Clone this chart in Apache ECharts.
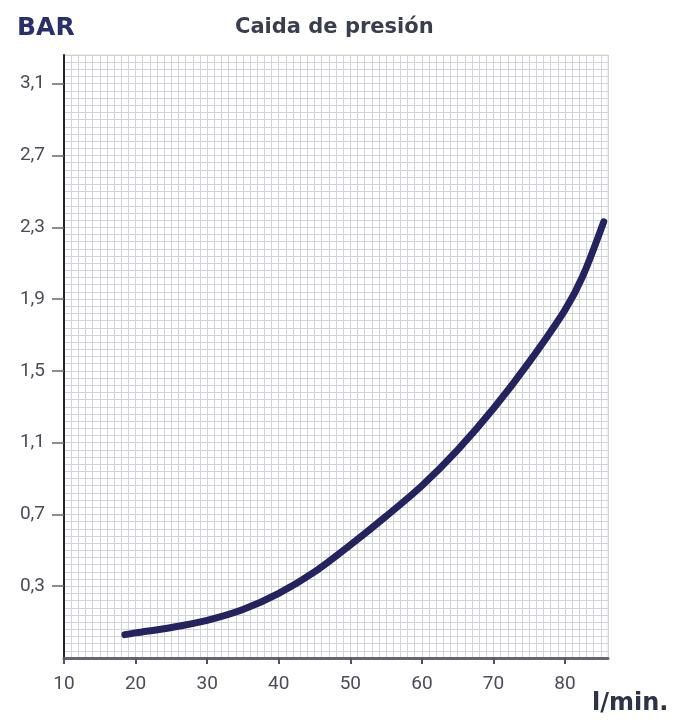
<!DOCTYPE html>
<html>
<head>
<meta charset="utf-8">
<script src="https://cdn.jsdelivr.net/npm/echarts@6/dist/echarts.min.js"></script>
<style>
html,body{margin:0;padding:0;background:#fff;}
#c{width:675px;height:721px;}
</style>
</head>
<body>
<div id="c"></div>
<script>
// Data
const flowLpm = [18.5, 20, 25, 30, 35, 40, 45, 50, 55, 60, 65, 70, 75, 80, 82.5, 85.4];
const pressureBar = [0.03, 0.04, 0.07, 0.11, 0.17, 0.26, 0.38, 0.53, 0.69, 0.86, 1.06, 1.29, 1.55, 1.84, 2.03, 2.33];
const xTicks = [10, 20, 30, 40, 50, 60, 70, 80];
const yTicks = [0.3, 0.7, 1.1, 1.5, 1.9, 2.3, 2.7, 3.1];

const xMin = 10, xMax = 86;
const yMin = -0.1, yMax = 3.26;

const chart = echarts.init(document.getElementById('c'));
const gridColor = '#d2d2dc';
const textColor = '#4c4c58';
const font = 'DejaVu Sans';
const labelFont = 'Roboto';

chart.setOption({
  backgroundColor: '#fff',
  animation: false,
  title: [
    { text: 'BAR', left: 12, top: 11, textStyle: { fontFamily: font, fontWeight: 'bold', fontSize: 25, color: '#2b2f6b' } },
    { text: 'Caida de presión', left: 230, top: 12, textStyle: { fontFamily: font, fontWeight: 'bold', fontSize: 21, color: '#3a3d50' } },
    { text: 'l/min.', left: 587, top: 687, textStyle: { fontFamily: font, fontWeight: 'bold', fontSize: 24, color: '#2f3348' } }
  ],
  grid: { left: 64, right: 67, top: 55, bottom: 63, show: true, borderColor: '#dcdce4', borderWidth: 1 },
  xAxis: [
    {
      type: 'value', min: xMin, max: xMax, interval: 10,
      axisLine: { show: true, onZero: false, lineStyle: { color: '#66666e', width: 3 } },
      axisTick: { show: true, customValues: xTicks, length: 6, lineStyle: { color: '#55555e', width: 2 } },
      axisLabel: { customValues: xTicks, margin: 17, fontFamily: labelFont, fontSize: 19, color: textColor },
      splitLine: { show: false }
    },
    {
      type: 'value', min: xMin, max: xMax, interval: 1, position: 'top',
      axisLine: { show: false }, axisTick: { show: false }, axisLabel: { show: false },
      splitLine: { show: true, lineStyle: { color: gridColor, width: 1 } }
    }
  ],
  yAxis: [
    {
      type: 'value', min: yMin, max: yMax, interval: 0.4,
      axisLine: { show: true, onZero: false, lineStyle: { color: '#22222a', width: 2 } },
      axisTick: { show: true, customValues: yTicks, length: 12, lineStyle: { color: '#66666e', width: 1.5 } },
      axisLabel: { customValues: yTicks, margin: 19, fontFamily: labelFont, fontSize: 19, color: textColor,
        formatter: v => v.toFixed(1).replace('.', ',') },
      splitLine: { show: false }
    },
    {
      type: 'value', min: 0, max: yMax - yMin, interval: 0.04, position: 'right',
      axisLine: { show: false }, axisTick: { show: false }, axisLabel: { show: false },
      splitLine: { show: true, lineStyle: { color: gridColor, width: 1 } }
    }
  ],
  series: [{
    type: 'line',
    xAxisIndex: 0, yAxisIndex: 0,
    data: flowLpm.map((x, i) => [x, pressureBar[i]]),
    smooth: 0.3,
    showSymbol: false,
    symbol: 'none',
    lineStyle: { color: '#25235f', width: 7, cap: 'round' },
    z: 5
  }]
});
</script>
</body>
</html>
